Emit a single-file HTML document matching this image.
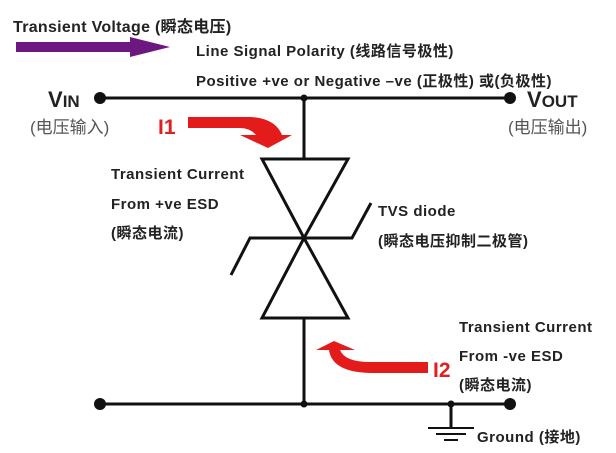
<html><head><style>
body{margin:0;background:#fff;width:616px;height:453px;overflow:hidden;font-family:"Liberation Sans","Noto Sans CJK SC",sans-serif}
svg text{font-family:"Liberation Sans","Noto Sans CJK SC",sans-serif}
.b{font-weight:bold;font-size:15px;letter-spacing:0.5px;fill:#222}
.g{font-size:17px;fill:#555}
</style></head><body>
<svg width="616" height="453" viewBox="0 0 616 453" xmlns="http://www.w3.org/2000/svg">
<text x="13" y="32" class="b" style="font-size:16px;letter-spacing:0.3px">Transient Voltage (瞬态电压)</text>
<polygon points="16,42 130,42 130,37 170,47 130,57 130,52 16,52" fill="#6d1780"/>
<text x="196" y="56" class="b">Line Signal Polarity (线路信号极性)</text>
<text x="196" y="86" class="b">Positive +ve or Negative –ve (正极性) 或(负极性)</text>
<g stroke="#111" stroke-width="3" fill="none">
<line x1="100" y1="98" x2="510" y2="98"/>
<line x1="100" y1="404" x2="510" y2="404"/>
<line x1="304" y1="98" x2="304" y2="159"/>
<line x1="304" y1="318" x2="304" y2="404"/>
<polygon points="262,159 348,159 304,238"/>
<polygon points="262,318 348,318 304,238"/>
<polyline points="231,275 250,238 352,238 371,203"/>
<line x1="451" y1="404" x2="451" y2="427"/>
<line x1="428" y1="428" x2="474" y2="428" stroke-width="2"/>
<line x1="436" y1="434" x2="466" y2="434" stroke-width="2"/>
<line x1="444" y1="440" x2="458" y2="440" stroke-width="2"/>
</g>
<circle cx="100" cy="98" r="6" fill="#111"/><circle cx="510" cy="98" r="6" fill="#111"/>
<circle cx="100" cy="404" r="6" fill="#111"/><circle cx="510" cy="404" r="6" fill="#111"/>
<circle cx="304" cy="98" r="3.5" fill="#111"/><circle cx="304" cy="404" r="3.5" fill="#111"/><circle cx="451" cy="404" r="3.5" fill="#111"/>
<text x="48" y="107" style="font-weight:bold;font-size:22px;fill:#222">V<tspan font-size="17">IN</tspan></text>
<text x="527" y="107" style="font-weight:bold;font-size:22px;fill:#222">V<tspan font-size="17">OUT</tspan></text>
<text x="30" y="133" class="g">(电压输入)</text>
<text x="508" y="133" class="g">(电压输出)</text>
<text x="158" y="134" style="font-size:21px;fill:#e02020;font-weight:bold">I1</text>
<path d="M188,117 L250,117 Q275,118 282,135 L292,135 L268,148 L240,135 L256,135 Q250,128 240,128 L188,128 Z" fill="#e31b1b"/>
<text x="433" y="377" style="font-size:21px;fill:#e02020;font-weight:bold">I2</text>
<path d="M428,362 L370,362 Q345,362 340,350 L355,350 L334,341 L316,350 L329,350 Q332,372 370,373 L428,373 Z" fill="#e31b1b"/>
<text x="111" y="179" class="b">Transient Current</text>
<text x="111" y="209" class="b">From +ve ESD</text>
<text x="111" y="238" class="b">(瞬态电流)</text>
<text x="378" y="216" class="b">TVS diode</text>
<text x="378" y="246" class="b">(瞬态电压抑制二极管)</text>
<text x="459" y="332" class="b">Transient Current</text>
<text x="459" y="361" class="b">From -ve ESD</text>
<text x="459" y="390" class="b">(瞬态电流)</text>
<text x="477" y="442" class="b">Ground (接地)</text>
</svg>
</body></html>
